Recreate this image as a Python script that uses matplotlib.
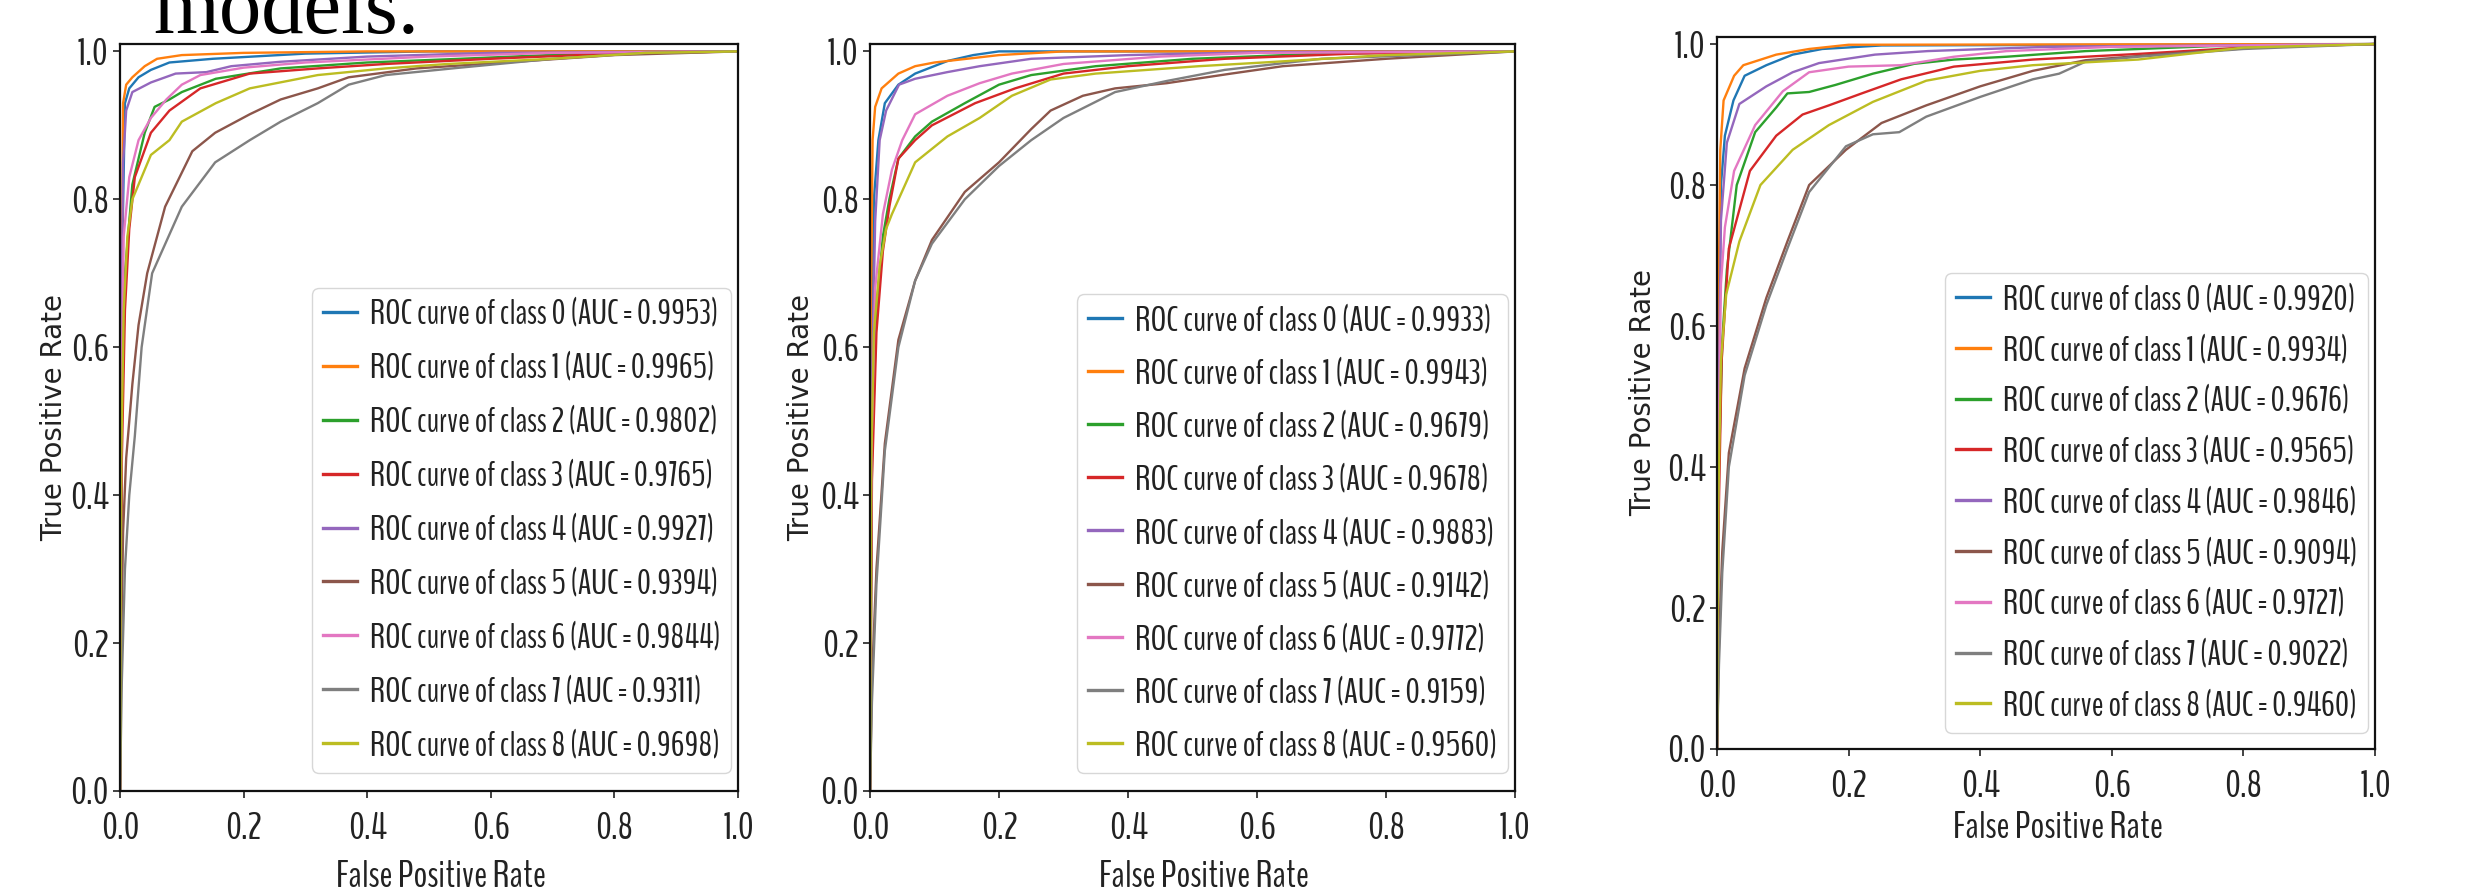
import matplotlib
matplotlib.use("Agg")
import matplotlib.pyplot as plt
from matplotlib import font_manager as fm
from matplotlib.font_manager import FontProperties
from matplotlib.textpath import TextPath

W, H, DPI = 2480, 890, 100

# ---------------- data ----------------
CLASSES = list(range(9))

# panel A (left)
A_AUC = [0.9953, 0.9965, 0.9802, 0.9765, 0.9927, 0.9394, 0.9844, 0.9311, 0.9698]
A_C0 = [(0, 0), (0.003, 0.7), (0.008, 0.93), (0.015, 0.95), (0.03, 0.965), (0.05, 0.975), (0.08, 0.985), (0.15, 0.99), (0.3, 0.997), (0.5, 1.0), (1, 1)]
A_C1 = [(0, 0), (0.002, 0.6), (0.005, 0.93), (0.01, 0.955), (0.02, 0.965), (0.04, 0.98), (0.06, 0.99), (0.1, 0.995), (0.2, 0.998), (0.4, 1.0), (1, 1)]
A_C2 = [(0, 0), (0.003, 0.5), (0.008, 0.7), (0.02, 0.82), (0.04, 0.89), (0.056, 0.925), (0.08, 0.935), (0.1, 0.945), (0.155, 0.963), (0.26, 0.977), (0.4, 0.985), (0.55, 0.99), (0.75, 0.997), (1, 1)]
A_C3 = [(0, 0), (0.003, 0.45), (0.008, 0.65), (0.015, 0.76), (0.024, 0.83), (0.05, 0.89), (0.08, 0.92), (0.13, 0.95), (0.21, 0.97), (0.32, 0.977), (0.43, 0.983), (0.6, 0.99), (0.8, 0.997), (1, 1)]
A_C4 = [(0, 0), (0.002, 0.6), (0.005, 0.85), (0.01, 0.92), (0.02, 0.945), (0.05, 0.958), (0.09, 0.97), (0.14, 0.972), (0.18, 0.98), (0.26, 0.986), (0.4, 0.993), (0.6, 0.998), (1, 1)]
A_C5 = [(0, 0), (0.002, 0.2), (0.005, 0.35), (0.01, 0.45), (0.02, 0.55), (0.03, 0.63), (0.044, 0.7), (0.073, 0.79), (0.117, 0.865), (0.154, 0.89), (0.21, 0.915), (0.26, 0.935), (0.32, 0.95), (0.37, 0.965), (0.48, 0.977), (0.64, 0.986), (0.8, 0.995), (1, 1)]
A_C6 = [(0, 0), (0.002, 0.5), (0.006, 0.75), (0.015, 0.83), (0.03, 0.88), (0.05, 0.91), (0.075, 0.935), (0.1, 0.955), (0.13, 0.968), (0.2, 0.978), (0.3, 0.985), (0.5, 0.993), (0.7, 0.998), (1, 1)]
A_C7 = [(0, 0), (0.003, 0.15), (0.008, 0.3), (0.015, 0.4), (0.024, 0.48), (0.035, 0.6), (0.052, 0.7), (0.1, 0.79), (0.154, 0.85), (0.21, 0.88), (0.26, 0.905), (0.32, 0.93), (0.37, 0.955), (0.43, 0.968), (0.55, 0.978), (0.7, 0.99), (0.85, 0.998), (1, 1)]
A_C8 = [(0, 0), (0.002, 0.45), (0.006, 0.65), (0.012, 0.75), (0.02, 0.8), (0.05, 0.86), (0.08, 0.88), (0.1, 0.905), (0.155, 0.93), (0.21, 0.95), (0.32, 0.968), (0.43, 0.977), (0.53, 0.983), (0.7, 0.99), (0.85, 0.998), (1, 1)]

# panel B (middle)
B_AUC = [0.9933, 0.9943, 0.9679, 0.9678, 0.9883, 0.9142, 0.9772, 0.9159, 0.9560]
B_C0 = [(0, 0), (0.002, 0.55), (0.006, 0.8), (0.013, 0.88), (0.023, 0.93), (0.044, 0.955), (0.07, 0.97), (0.12, 0.987), (0.16, 0.995), (0.2, 1.0), (1, 1)]
B_C1 = [(0, 0), (0.001, 0.6), (0.004, 0.88), (0.008, 0.925), (0.018, 0.95), (0.044, 0.97), (0.07, 0.98), (0.1, 0.985), (0.15, 0.99), (0.2, 0.995), (0.3, 1.0), (1, 1)]
B_C2 = [(0, 0), (0.003, 0.45), (0.01, 0.65), (0.02, 0.75), (0.03, 0.8), (0.044, 0.855), (0.07, 0.885), (0.096, 0.905), (0.147, 0.93), (0.2, 0.955), (0.25, 0.968), (0.35, 0.98), (0.5, 0.99), (0.7, 0.997), (1, 1)]
B_C3 = [(0, 0), (0.003, 0.42), (0.01, 0.62), (0.02, 0.73), (0.03, 0.79), (0.044, 0.855), (0.07, 0.88), (0.096, 0.9), (0.163, 0.93), (0.225, 0.95), (0.3, 0.97), (0.4, 0.98), (0.55, 0.99), (0.75, 0.997), (1, 1)]
B_C4 = [(0, 0), (0.002, 0.5), (0.008, 0.77), (0.015, 0.88), (0.025, 0.92), (0.045, 0.955), (0.07, 0.963), (0.12, 0.972), (0.17, 0.98), (0.25, 0.99), (0.4, 0.995), (0.6, 0.999), (1, 1)]
B_C5 = [(0, 0), (0.003, 0.15), (0.01, 0.3), (0.023, 0.47), (0.044, 0.61), (0.07, 0.69), (0.096, 0.745), (0.147, 0.81), (0.2, 0.85), (0.25, 0.895), (0.28, 0.92), (0.33, 0.94), (0.38, 0.95), (0.46, 0.957), (0.56, 0.97), (0.64, 0.98), (0.8, 0.99), (1, 1)]
B_C6 = [(0, 0), (0.002, 0.45), (0.008, 0.68), (0.02, 0.78), (0.034, 0.84), (0.05, 0.88), (0.07, 0.915), (0.12, 0.94), (0.17, 0.957), (0.22, 0.97), (0.3, 0.983), (0.45, 0.993), (0.6, 0.998), (1, 1)]
B_C7 = [(0, 0), (0.003, 0.12), (0.01, 0.28), (0.023, 0.46), (0.044, 0.6), (0.07, 0.69), (0.096, 0.74), (0.147, 0.8), (0.2, 0.845), (0.25, 0.88), (0.3, 0.91), (0.38, 0.945), (0.46, 0.96), (0.55, 0.975), (0.7, 0.99), (1, 1)]
B_C8 = [(0, 0), (0.002, 0.45), (0.006, 0.62), (0.015, 0.71), (0.025, 0.76), (0.034, 0.78), (0.07, 0.85), (0.12, 0.885), (0.17, 0.91), (0.22, 0.94), (0.28, 0.962), (0.35, 0.97), (0.51, 0.98), (0.61, 0.985), (0.8, 0.995), (1, 1)]

# panel C (right)
C_AUC = [0.9920, 0.9934, 0.9676, 0.9565, 0.9846, 0.9094, 0.9727, 0.9022, 0.9460]
C_C0 = [(0, 0), (0.002, 0.5), (0.006, 0.8), (0.012, 0.87), (0.025, 0.92), (0.042, 0.955), (0.075, 0.97), (0.115, 0.985), (0.16, 0.993), (0.25, 0.998), (1, 1)]
C_C1 = [(0, 0), (0.002, 0.6), (0.005, 0.85), (0.01, 0.92), (0.026, 0.955), (0.04, 0.97), (0.09, 0.985), (0.14, 0.993), (0.2, 0.999), (1, 1)]
C_C2 = [(0, 0), (0.003, 0.4), (0.008, 0.58), (0.015, 0.68), (0.03, 0.8), (0.058, 0.875), (0.09, 0.91), (0.107, 0.93), (0.14, 0.932), (0.18, 0.942), (0.237, 0.958), (0.3, 0.972), (0.36, 0.978), (0.44, 0.982), (0.56, 0.99), (0.75, 0.997), (1, 1)]
C_C3 = [(0, 0), (0.002, 0.3), (0.007, 0.55), (0.018, 0.71), (0.05, 0.82), (0.09, 0.87), (0.13, 0.9), (0.17, 0.913), (0.22, 0.93), (0.28, 0.95), (0.36, 0.968), (0.48, 0.978), (0.64, 0.986), (0.8, 0.995), (1, 1)]
C_C4 = [(0, 0), (0.002, 0.45), (0.006, 0.75), (0.015, 0.86), (0.034, 0.915), (0.075, 0.94), (0.115, 0.96), (0.155, 0.973), (0.24, 0.985), (0.32, 0.99), (0.5, 0.996), (1, 1)]
C_C5 = [(0, 0), (0.003, 0.15), (0.008, 0.28), (0.018, 0.42), (0.042, 0.54), (0.075, 0.64), (0.107, 0.72), (0.14, 0.8), (0.196, 0.85), (0.25, 0.888), (0.318, 0.913), (0.4, 0.94), (0.48, 0.962), (0.56, 0.977), (0.68, 0.986), (0.85, 0.997), (1, 1)]
C_C6 = [(0, 0), (0.002, 0.4), (0.006, 0.66), (0.012, 0.74), (0.026, 0.82), (0.058, 0.885), (0.1, 0.933), (0.14, 0.96), (0.2, 0.968), (0.28, 0.97), (0.36, 0.982), (0.44, 0.99), (0.6, 0.996), (1, 1)]
C_C7 = [(0, 0), (0.003, 0.12), (0.008, 0.25), (0.018, 0.4), (0.042, 0.53), (0.075, 0.63), (0.107, 0.71), (0.14, 0.79), (0.196, 0.855), (0.237, 0.872), (0.277, 0.875), (0.318, 0.897), (0.4, 0.925), (0.48, 0.95), (0.52, 0.958), (0.56, 0.975), (0.64, 0.982), (0.8, 0.993), (1, 1)]
C_C8 = [(0, 0), (0.002, 0.35), (0.006, 0.55), (0.014, 0.645), (0.034, 0.72), (0.066, 0.8), (0.115, 0.85), (0.17, 0.885), (0.237, 0.918), (0.318, 0.948), (0.4, 0.962), (0.48, 0.97), (0.64, 0.978), (0.8, 0.995), (1, 1)]

X_LABEL = "False Positive Rate"
Y_LABEL = "True Positive Rate"
HEADING = "models."

COLORS = ['#1f77b4', '#ff7f0e', '#2ca02c', '#d62728', '#9467bd',
          '#8c564b', '#e377c2', '#7f7f7f', '#bcbd22']

# ---------------- fonts ----------------
names = {f.name for f in fm.fontManager.ttflist}
PREF = ['Sofia Sans Extra Condensed', 'Fira Sans Extra Condensed', 'Encode Sans Compressed',
        'Encode Sans ExtraCondensed', 'Saira Extra Condensed', 'Open Sans Condensed',
        'Barlow Condensed', 'Roboto Condensed', 'Archivo Narrow', 'Asap Condensed',
        'PT Sans Narrow', 'Ubuntu Condensed', 'Liberation Sans Narrow', 'BenchNine']
cands = [c for c in PREF if c in names] or ['DejaVu Sans']


def metrics(fam, s):
    fp = FontProperties(family=fam)
    w = TextPath((0, 0), s, size=100, prop=fp).get_extents().width / 100
    c = TextPath((0, 0), "H", size=100, prop=fp).get_extents().height / 100
    lp = TextPath((0, 0), "lp", size=100, prop=fp).get_extents().height / 100
    return w, c, lp


REF = "ROC curve of class 0 (AUC = 0.9953)"


def ratio(fam):
    try:
        w, c, _ = metrics(fam, REF)
        return w / c
    except Exception:
        return 99.0


FONT = min(cands, key=lambda c: abs(ratio(c) - 12.5))
FAM = [FONT, 'DejaVu Sans']


def fit_px(s, width_px, cap_px):
    w, c, _ = metrics(FONT, s)
    return min(width_px / w, cap_px / c)


PT = 72.0 / DPI

fig = plt.figure(figsize=(W / DPI, H / DPI), dpi=DPI)
fig.patch.set_facecolor('white')

fig.text(419 / W, 1 - 33 / H, HEADING, ha='right', va='baseline',
         fontsize=61, family=['Liberation Serif', 'DejaVu Serif'], color='black')

PANELS = [
    dict(box=(120, 738, 44, 791), curves=[A_C0, A_C1, A_C2, A_C3, A_C4, A_C5, A_C6, A_C7, A_C8],
         auc=A_AUC, leg=(731, 773, 297), ylab=68, xlab=860, legw=345),
    dict(box=(870, 1515, 44, 791), curves=[B_C0, B_C1, B_C2, B_C3, B_C4, B_C5, B_C6, B_C7, B_C8],
         auc=B_AUC, leg=(1508, 773, 295), ylab=815, xlab=860, legw=356),
    dict(box=(1717, 2375, 37, 749), curves=[C_C0, C_C1, C_C2, C_C3, C_C4, C_C5, C_C6, C_C7, C_C8],
         auc=C_AUC, leg=(2368, 733, 281), ylab=1657, xlab=811, legw=347),
]

tick_px = fit_px("0.0", 36, 27)
xlab_px = fit_px(X_LABEL, 212, 27)

for p in PANELS:
    l, r, t, b = p['box']
    ax = fig.add_axes([l / W, 1 - b / H, (r - l) / W, (b - t) / H])
    ax.set_facecolor('white')
    for i, (pts, auc) in enumerate(zip(p['curves'], p['auc'])):
        xs = [q[0] for q in pts]
        ys = [q[1] for q in pts]
        ax.plot(xs, ys, color=COLORS[i], lw=1.7,
                label=f"ROC curve of class {CLASSES[i]} (AUC = {auc:.4f})")
    ax.set_xlim(0, 1)
    ax.set_ylim(0, 1.01)
    ax.set_xticks([0, 0.2, 0.4, 0.6, 0.8, 1.0])
    ax.set_yticks([0, 0.2, 0.4, 0.6, 0.8, 1.0])
    for s in ax.spines.values():
        s.set_linewidth(1.6)
        s.set_color('#111111')
    ax.tick_params(axis='both', length=5, width=1.2, color='#222222',
                   labelsize=tick_px * PT, labelcolor='#222222')
    ax.tick_params(axis='x', pad=10)
    ax.tick_params(axis='y', pad=3)
    for lab in ax.get_xticklabels() + ax.get_yticklabels():
        lab.set_family(FAM)

    ax.set_xlabel(X_LABEL, fontsize=xlab_px * PT, family=FAM, color='#222222')
    ax.xaxis.set_label_coords(0.5 + 12.0 / (r - l), -(p['xlab'] - b) / (b - t))
    ax.set_ylabel(Y_LABEL, fontsize=20, family='DejaVu Sans', color='#222222')
    ax.yaxis.set_label_coords(-(l - p['ylab']) / (r - l), 0.5)

    lr, lb, lt = p['leg']
    F = fit_px(REF, p['legw'], 28)
    _, _, lp = metrics(FONT, REF)
    lp_px = lp * F
    pad_px = 11.0
    pitch = ((lb - lt) - 2 * pad_px - lp_px) / 8.0
    labelspacing = max(0.05, (pitch - lp_px) / F)
    leg = ax.legend(loc='lower right',
                    bbox_to_anchor=((lr - l) / (r - l), (b - lb) / (b - t)),
                    borderaxespad=0, fontsize=F * PT,
                    labelspacing=labelspacing, borderpad=pad_px / F,
                    handlelength=34 / F, handletextpad=13 / F,
                    frameon=True, framealpha=0.85, edgecolor='#d0d0d0', fancybox=True)
    for txt in leg.get_texts():
        txt.set_family(FAM)
        txt.set_color('#222222')
    for h in leg.get_lines():
        h.set_linewidth(2.4)

fig.savefig("out.png", dpi=DPI, facecolor='white')
